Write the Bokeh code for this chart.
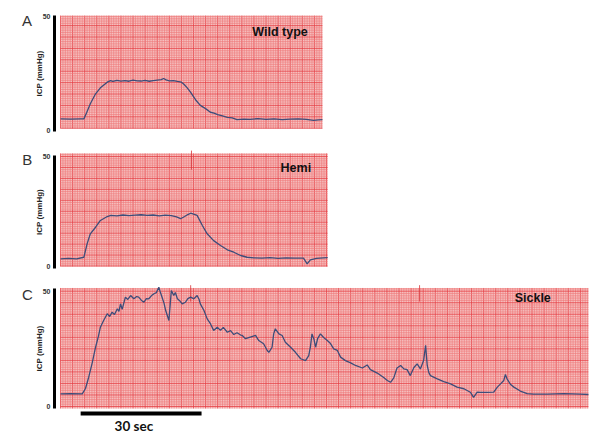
import numpy as np
from bokeh.plotting import figure
from bokeh.layouts import column
from bokeh.models import Range1d, FixedTicker
from bokeh.embed import file_html
from bokeh.resources import INLINE
from bokeh.core.properties import value

# ---------------- data ----------------
panel_letters = ["A", "B", "C"]
panel_names = ["Wild type", "Hemi", "Sickle"]
y_ticks = [0, 50]
y_label = "ICP (mmHg)"
scale_bar_label = "30 sec"
scale_bar_start = 5.0      # s
scale_bar_len = 30.0       # s
record_len = [65.0, 66.3, 131.0]   # s of chart paper shown per panel

wt_t = [0, 2.5, 5.0, 5.8, 6.5, 7.4, 8.7, 9.9, 11.6, 12.4,
        13.0, 14.0, 15.0, 16.0, 17.0, 18.0, 19.0, 20.0, 21.0, 22.0, 23.0, 24.0, 25.0,
        25.6, 26.2, 27.0, 28.0, 29.0, 30.0,
        30.5, 31.4, 32.3, 33.5, 34.7, 36.0, 37.2, 38.1, 39.0, 40.2, 41.4, 42.6, 43.8,
        45.5, 47.0, 49.0, 51.0, 53.0, 55.0, 57.0, 59.0, 61.0, 62.8, 64.0, 65.0]
wt_icp = [5.1, 5.0, 5.1, 5.1, 7.9, 11.7, 16.1, 18.7, 21.2, 21.9,
          21.5, 22.0, 21.7, 21.9, 21.6, 22.1, 21.8, 21.7, 22.0, 21.6, 21.9, 22.1, 22.3,
          22.8, 22.2, 21.8, 21.9, 21.5, 21.2,
          20.5, 18.8, 16.7, 13.5, 11.0, 9.6, 8.0, 7.6, 7.0, 6.4, 5.8, 5.5, 4.8,
          5.0, 4.9, 5.2, 4.9, 5.1, 4.8, 5.0, 5.1, 4.9, 4.4, 4.7, 4.8]

hemi_t = [0, 2.0, 4.0, 5.8, 6.6, 7.4, 8.7, 9.9, 11.6, 12.5,
          14.0, 15.5, 17.0, 18.5, 20.0, 21.5, 23.0, 24.5, 26.0, 27.5,
          28.8, 29.8, 30.8, 31.6, 32.3, 33.2, 33.9,
          35.2, 36.4, 38.0, 39.7, 41.4, 43.0, 44.7, 46.3, 48.0,
          50.0, 52.0, 54.0, 56.0, 58.0, 60.3, 61.2, 62.0, 63.5, 65.3, 66.3]
hemi_icp = [3.3, 3.5, 3.3, 4.0, 10.1, 14.7, 17.7, 20.8, 22.6, 23.1,
            22.9, 23.3, 23.0, 23.2, 23.4, 23.1, 23.3, 22.9, 23.2, 23.0,
            22.4, 21.6, 22.6, 23.5, 24.1, 23.6, 23.1,
            18.5, 14.7, 11.6, 9.4, 7.4, 6.3, 4.8, 4.0, 3.7,
            3.6, 3.8, 3.5, 3.7, 3.6, 3.6, 1.0, 2.8, 3.5, 3.7, 3.8]

sickle_t = [0, 2.5, 5.4, 6.2, 7.0, 7.9, 8.7, 9.4, 9.9, 10.7,
            11.6, 12.2, 12.8, 13.4, 14.1, 14.5, 14.9, 15.3, 16.1, 16.7,
            17.4, 18.2, 18.9, 19.4, 20.1, 20.7, 21.3, 21.9, 22.6, 23.2,
            23.8, 24.4, 24.8, 25.2, 25.7, 26.1, 26.9, 27.2, 27.5, 28.1,
            28.5, 29.0, 29.5, 30.2, 31.0, 31.6, 32.3, 33.1, 33.9, 34.4,
            34.7, 35.6, 36.4, 37.2, 38.0, 38.9, 39.7, 40.4, 41.4, 42.2,
            43.0, 43.8, 44.7, 45.1, 45.9, 47.1, 48.4, 49.2, 50.4, 51.3,
            51.7, 52.5, 52.9, 53.3, 54.2, 55.0, 55.8, 57.1, 58.3, 59.6,
            60.8, 61.6, 62.0, 62.4, 62.9, 63.3, 63.8, 64.5, 65.3, 66.2,
            67.0, 67.8, 68.7, 69.5, 70.7, 72.0, 73.2, 74.9, 76.1, 76.9,
            78.6, 80.2, 81.1, 81.9, 82.7, 83.5, 84.4, 85.2, 86.0, 86.8,
            87.7, 88.5, 89.3, 90.1, 90.6, 91.0, 91.4, 91.8, 93.5, 95.1,
            96.8, 98.4, 100.1, 101.7, 102.5, 103.4, 104.2, 105.9, 107.5, 108.4,
            109.2, 110.0, 110.4, 110.8, 111.7, 112.5, 114.1, 115.8, 117.4, 120.8,
            124.9, 129.0, 131.0]
sickle_icp = [5.5, 5.6, 5.5, 7.8, 12.7, 19.1, 25.7, 30.4, 34.4, 37.3,
              40.2, 39.0, 40.9, 39.9, 42.4, 41.2, 44.5, 42.1, 47.4, 46.4,
              48.1, 46.7, 47.7, 47.4, 46.0, 45.2, 46.8, 46.7, 48.1, 48.9,
              49.4, 51.7, 49.4, 47.4, 44.7, 41.6, 37.3, 43.8, 50.3, 48.2,
              49.4, 46.7, 46.0, 44.5, 45.2, 46.8, 47.4, 46.7, 48.1, 46.4,
              44.5, 41.6, 38.0, 35.9, 33.0, 34.4, 33.0, 34.3, 32.2, 32.9,
              31.2, 32.0, 31.0, 30.8, 29.4, 30.1, 30.8, 28.6, 27.2, 24.3,
              23.5, 25.7, 31.5, 33.7, 31.5, 30.8, 27.9, 25.7, 23.5, 20.7,
              19.9, 22.1, 25.7, 31.5, 29.1, 25.7, 29.4, 31.5, 29.9, 28.6,
              27.3, 25.0, 24.3, 21.4, 19.9, 18.9, 17.8, 16.7, 18.0, 16.0,
              14.5, 12.6, 11.3, 10.5, 12.4, 16.7, 17.8, 16.3, 16.0, 13.4,
              16.9, 18.5, 16.3, 19.9, 26.5, 17.8, 14.7, 13.4, 12.0, 10.8,
              9.8, 8.4, 7.7, 6.2, 4.0, 6.2, 6.1, 6.1, 6.2, 8.4,
              9.8, 11.3, 13.9, 12.0, 9.5, 8.4, 6.7, 5.6, 5.4, 5.4,
              5.6, 5.4, 5.2]

# chart-paper event marks (time, s)
hemi_marks = [32.5]
sickle_marks = [32.3, 89.1]

# ---------------- styling ----------------
PINK = "#f6c0c0"
MINOR = "#ee7878"
MAJOR = "#e43c42"
TRACE = "#3d4d7a"
X_STEP = 0.6
Y_STEP = 1.0
FONT = "Liberation Sans"
X_RANGE = (-14.89, 132.26)
AXIS_AT = -1.49


def paper(p, t_end, y0, y1):
    p.quad(left=[0], right=[t_end], bottom=[y0], top=[y1],
           fill_color=PINK, line_color=None)
    xs = np.arange(0, t_end + 1e-6, X_STEP)
    ys = np.arange(np.ceil(y0), y1 + 1e-6, Y_STEP)
    xi = np.arange(len(xs))
    yi = np.arange(len(ys))
    for sel, col, alpha in ((xi % 5 != 0, MINOR, 0.6), (xi % 5 == 0, MAJOR, 0.75)):
        x = xs[sel]
        p.segment(x0=x, x1=x, y0=[y0] * len(x), y1=[y1] * len(x),
                  line_color=col, line_alpha=alpha, line_width=1)
    for sel, col, alpha in ((yi % 5 != 0, MINOR, 0.6), (yi % 5 == 0, MAJOR, 0.75)):
        y = ys[sel]
        p.segment(x0=[0] * len(y), x1=[t_end] * len(y), y0=y, y1=y,
                  line_color=col, line_alpha=alpha, line_width=1)


def make_panel(height, yr, grid_y, axis_bounds, t_end, t, icp, name, name_pos,
               letter, letter_pos, marks, mark_y):
    p = figure(width=593, height=height, x_range=Range1d(*X_RANGE), y_range=Range1d(*yr),
               x_axis_location=None, toolbar_location=None, output_backend="svg",
               min_border_left=0, min_border_right=0, min_border_top=0, min_border_bottom=0)
    p.outline_line_color = None
    p.grid.visible = False
    p.background_fill_color = "white"
    p.border_fill_color = "white"

    paper(p, t_end, grid_y[0], grid_y[1])
    if marks:
        p.segment(x0=marks, x1=marks, y0=[mark_y[0]] * len(marks), y1=[mark_y[1]] * len(marks),
                  line_color="#d8343a", line_alpha=0.8, line_width=1)

    p.line(t, icp, line_color=TRACE, line_width=1.3)

    p.text(x=[name_pos[0]], y=[name_pos[1]], text=[name], text_font=value(FONT),
           text_font_style="bold", text_font_size="12.5px", text_color="#111111",
           text_align="left", text_baseline="middle")
    p.text(x=[letter_pos[0]], y=[letter_pos[1]], text=[letter], text_font=value(FONT),
           text_font_size="15px", text_color="#333333",
           text_align="center", text_baseline="middle")

    ax = p.yaxis[0]
    ax.fixed_location = AXIS_AT
    ax.ticker = FixedTicker(ticks=y_ticks)
    ax.bounds = axis_bounds
    ax.axis_line_width = 3
    ax.axis_line_color = "black"
    ax.major_tick_out = 0
    ax.major_tick_in = 0
    ax.minor_tick_out = 0
    ax.minor_tick_in = 0
    ax.major_tick_line_color = None
    ax.minor_tick_line_color = None
    ax.major_label_text_font = FONT
    ax.major_label_text_font_size = "7px"
    ax.major_label_text_font_style = "bold"
    ax.major_label_text_color = "#333333"
    ax.major_label_standoff = 4
    ax.axis_label = y_label
    ax.axis_label_text_font = FONT
    ax.axis_label_text_font_size = "8px"
    ax.axis_label_text_font_style = "bold"
    ax.axis_label_text_color = "#222222"
    ax.axis_label_standoff = -4
    return p


pA = make_panel(140, (-4.39, 57.02), (0.9, 50.4), (-0.45, 50.45), record_len[0],
                wt_t, wt_icp, panel_names[0], (47.6, 43.3), panel_letters[0], (-8.31, 48.4),
                [], None)
pB = make_panel(136, (-4.79, 57.31), (-0.2, 51.4), (-1.0, 50.5), record_len[1],
                hemi_t, hemi_icp, panel_names[1], (54.6, 44.8), panel_letters[1], (-8.26, 48.8),
                hemi_marks, (52.7, 44.0))
pC = make_panel(161, (-13.44, 56.37), (-0.87, 51.4), (-0.74, 51.2), record_len[2],
                sickle_t, sickle_icp, panel_names[2], (112.7, 46.9), panel_letters[2], (-8.19, 48.6),
                sickle_marks, (52.6, 45.5))

# 30 s scale bar under panel C
pC.segment(x0=[scale_bar_start], x1=[scale_bar_start + scale_bar_len], y0=[-3.04], y1=[-3.04],
           line_color="black", line_width=4)
pC.text(x=[18.2], y=[-8.4], text=[scale_bar_label], text_font=value("Lato"),
        text_font_style="bold", text_font_size="13.5px", text_color="#111111",
        text_align="center", text_baseline="middle")

layout = column(pA, pB, pC, spacing=0)
open("out.html", "w").write(file_html(layout, INLINE))
